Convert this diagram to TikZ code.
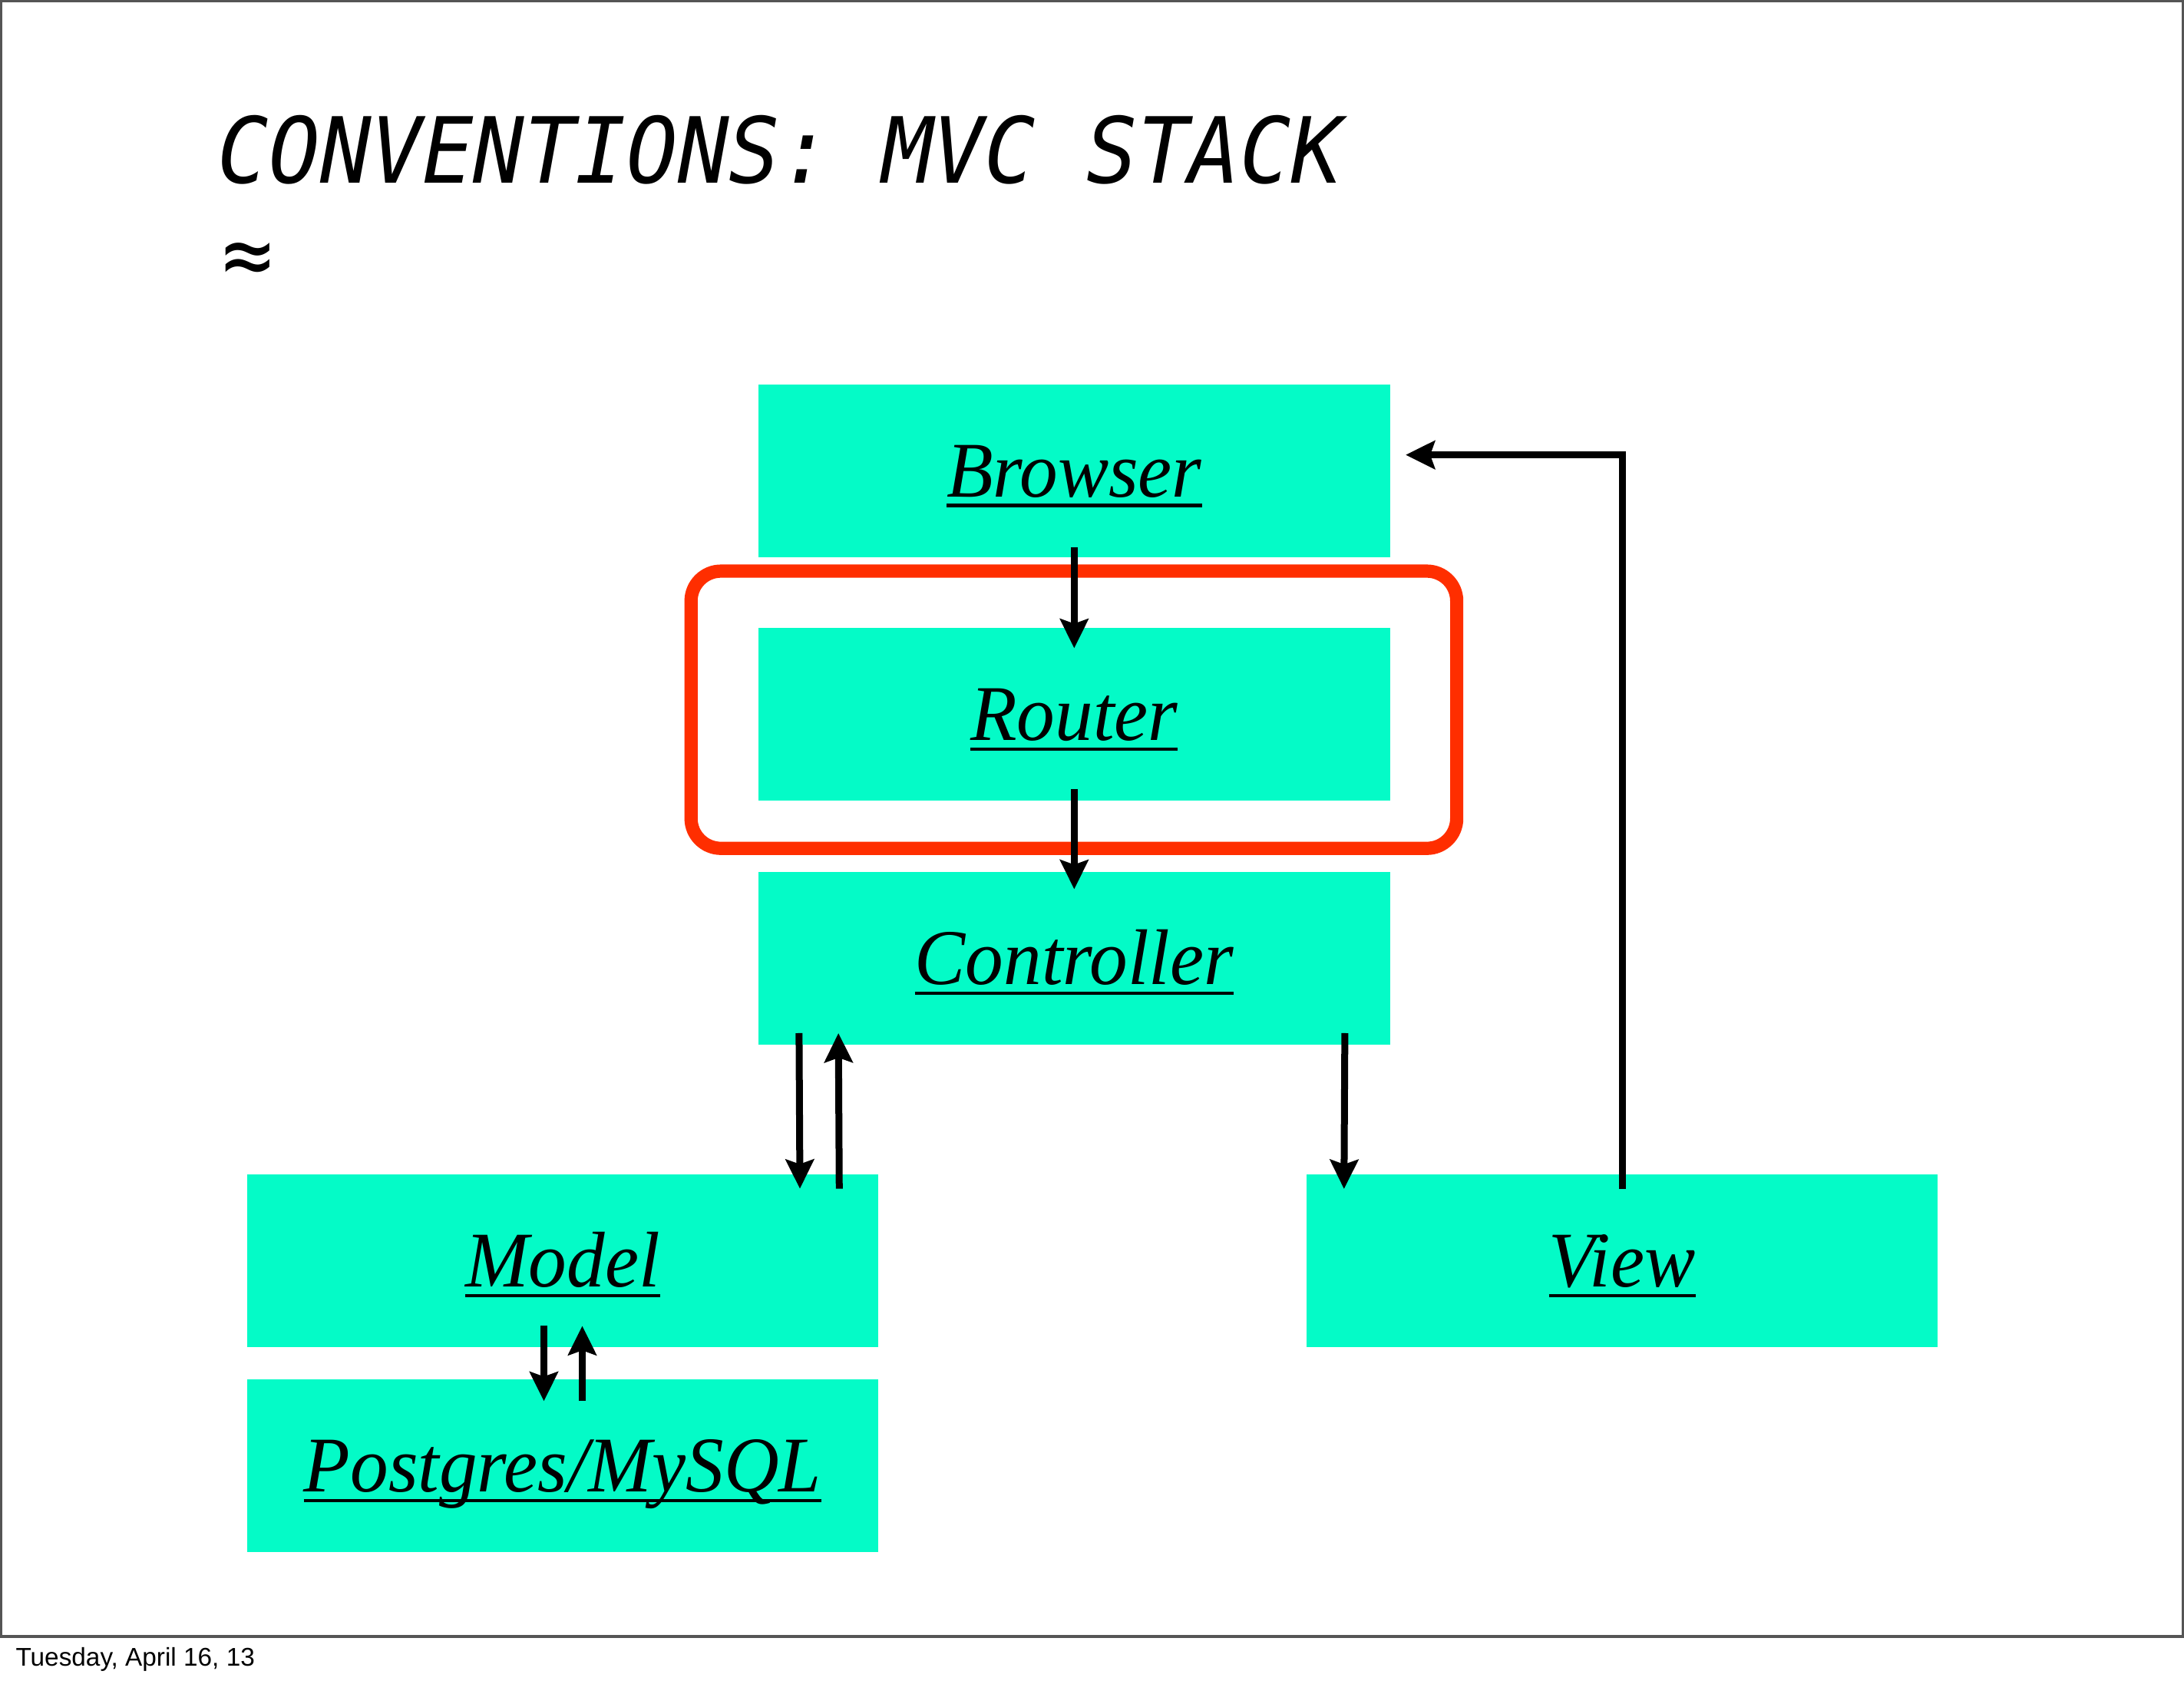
\documentclass[tikz,border=0pt]{standalone}
\usepackage{fontspec}
\usepackage{graphicx}
\usetikzlibrary{arrows.meta}
\newfontfamily\titlefont{DejaVu Sans Mono}
\newfontfamily\datefont{Liberation Sans}
\newfontfamily\labelfont{Liberation Serif}
\definecolor{boxcyan}{RGB}{4,251,199}
\definecolor{markred}{RGB}{255,46,0}
\definecolor{framegray}{RGB}{85,85,85}
\newcommand\ulab[1]{\scalebox{0.965}[1]{\setbox0\hbox{#1}\rlap{\copy0}\rule[-4.8pt]{\wd0}{1.6pt}}}
\tikzset{
  layerbox/.style={rectangle, fill=boxcyan, draw=none, minimum width=296pt, minimum height=81pt,
    inner sep=0pt, text height=24.5pt, text depth=0pt, font=\labelfont\itshape\fontsize{37}{42}\selectfont},
  arr/.style={draw=black, line width=3.24pt, line join=miter,
    -{Stealth[length=13.7pt,width=13.2pt,inset=2.2pt]}},
  redmark/.style={draw=markred, line width=6.2pt, rounded corners=14pt},
}
\begin{document}
\begin{tikzpicture}[x=1pt,y=-1pt]
\useasboundingbox (0,0) rectangle (1024,788);
\draw[framegray, line width=1.2pt] (0.6,0.6) rectangle (1023.4,767.4);
\node[anchor=base west, inner sep=0pt, font=\titlefont\itshape\fontsize{42.8}{46}\selectfont] (title) at (102,85.8) {\scalebox{0.93}[1]{CONVENTIONS: MVC STACK}};
\node[anchor=base west, inner sep=0pt, font=\titlefont\itshape\fontsize{42.8}{46}\selectfont] (approx) at (104,134) {\scalebox{0.93}[1]{≈}};
\node[layerbox] (browser) at (503.65,220.7) {\ulab{Browser}};
\node[layerbox] (router) at (503.65,334.95) {\ulab{Router}};
\node[layerbox] (controller) at (503.65,449.45) {\ulab{Controller}};
\node[layerbox] (model) at (263.8,591.2) {\ulab{Model}};
\node[layerbox] (view) at (760.55,591.2) {\ulab{View}};
\node[layerbox] (postgres) at (263.8,687.3) {\ulab{Postgres/MySQL}};
\draw[redmark] (324,267.8) rectangle (683,397.8);
\draw[arr] ([yshift=4.6pt]browser.south) -- ([yshift=-9.7pt]router.north);
\draw[arr] ([yshift=5.7pt]router.south) -- ([yshift=-8.2pt]controller.north);
\draw[arr] ([xshift=19.2pt,yshift=5.7pt]controller.south west) -- ([xshift=-36.95pt,yshift=-6.9pt]model.north east);
\draw[arr] ([xshift=-18.5pt,yshift=-6.9pt]model.north east) -- ([xshift=37.65pt,yshift=5.7pt]controller.south west);
\draw[arr] ([xshift=-21.3pt,yshift=5.7pt]controller.south east) -- ([xshift=17.8pt,yshift=-7pt]view.north west);
\draw[arr] ([yshift=-6.9pt]view.north) |- ([xshift=7.2pt,yshift=7.4pt]browser.east);
\draw[arr] ([xshift=-8.8pt,yshift=10.2pt]model.south) -- ([xshift=-8.8pt,yshift=-10.4pt]postgres.north);
\draw[arr] ([xshift=9.2pt,yshift=-10.4pt]postgres.north) -- ([xshift=9.2pt,yshift=10.2pt]model.south);
\node[anchor=base west, inner sep=0pt, font=\datefont\fontsize{12}{14}\selectfont] (date) at (7.2,781.1) {Tuesday, April 16, 13};
\end{tikzpicture}
\end{document}
